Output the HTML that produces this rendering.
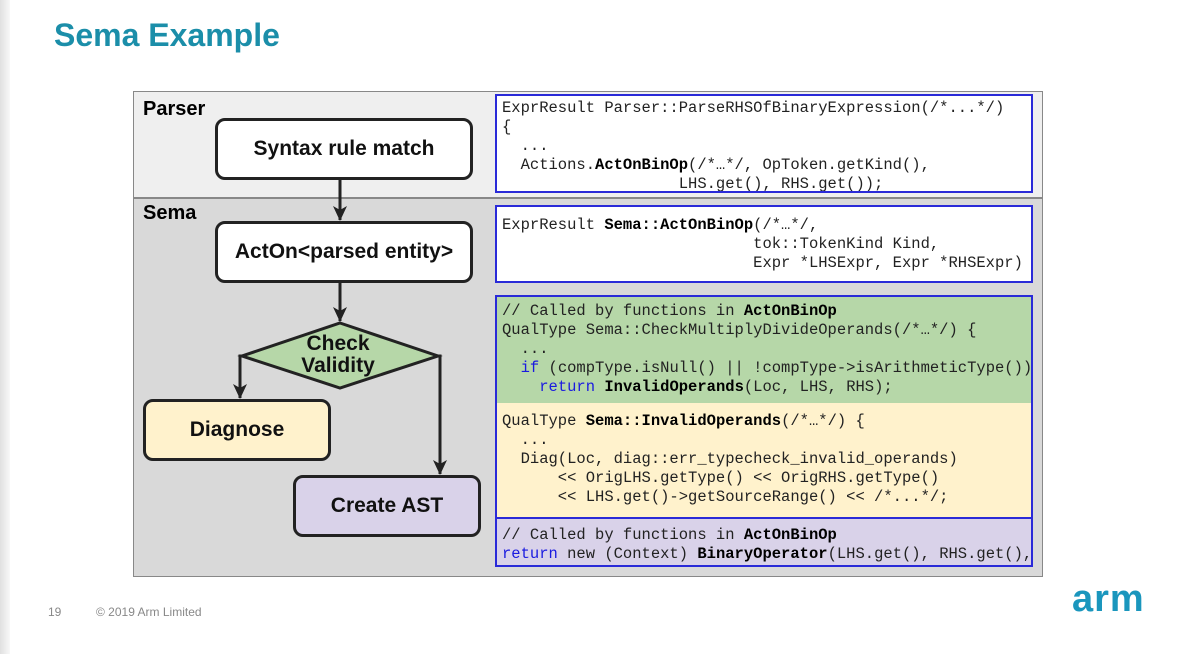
<!DOCTYPE html>
<html><head><meta charset="utf-8"><style>
body{margin:0;width:1188px;height:654px;background:#fff;position:relative;overflow:hidden;font-family:"Liberation Sans",sans-serif}
.abs{position:absolute}
.code{position:absolute;left:495px;width:538px;border:2px solid #2a2ad8;box-sizing:border-box;font-family:"Liberation Mono",monospace;font-size:15.5px;line-height:19px;white-space:pre;color:#222;padding-left:5px;overflow:hidden}
.code b{color:#000}
.kw{color:#1a1ae0}
.node{position:absolute;border:3px solid #222;border-radius:10px;box-sizing:border-box;display:flex;align-items:center;justify-content:center;font-weight:bold;font-size:21px;color:#111}
</style></head><body>
<div class="abs" style="left:0;top:0;width:10px;height:654px;background:linear-gradient(to right,#e0e0e0,#f8f8f8)"></div>
<div class="abs" style="left:54px;top:17px;font-size:32px;font-weight:bold;color:#1b8ea9">Sema Example</div>
<div class="abs" style="left:133px;top:91px;width:908px;height:106px;background:#efefef;border:1px solid #888;border-bottom:none"></div>
<div class="abs" style="left:133px;top:197px;width:908px;height:377px;background:#d9d9d9;border:1px solid #888;border-top:2px solid #888"></div>
<div class="abs" style="left:143px;top:98px;font-size:20px;font-weight:bold">Parser</div>
<div class="abs" style="left:143px;top:202px;font-size:20px;font-weight:bold">Sema</div>

<div class="code" style="top:94px;height:99px;background:#fff;padding-top:3px">ExprResult Parser::ParseRHSOfBinaryExpression(/*...*/)
{
  ...
  Actions.<b>ActOnBinOp</b>(/*…*/, OpToken.getKind(),
                   LHS.get(), RHS.get());</div>
<div class="code" style="top:205px;height:78px;background:#fff;padding-top:9px">ExprResult <b>Sema::ActOnBinOp</b>(/*…*/,
                           tok::TokenKind Kind,
                           Expr *LHSExpr, Expr *RHSExpr)</div>
<div class="code" style="top:295px;height:110px;background:#b6d7a8;padding-top:5px">// Called by functions in <b>ActOnBinOp</b>
QualType Sema::CheckMultiplyDivideOperands(/*…*/) {
  ...
  <span class="kw">if</span> (compType.isNull() || !compType->isArithmeticType())
    <span class="kw">return</span> <b>InvalidOperands</b>(Loc, LHS, RHS);</div>
<div class="code" style="top:403px;height:116px;background:#fff2cc;border-top:none;padding-top:9px">QualType <b>Sema::InvalidOperands</b>(/*…*/) {
  ...
  Diag(Loc, diag::err_typecheck_invalid_operands)
      << OrigLHS.getType() << OrigRHS.getType()
      << LHS.get()->getSourceRange() << /*...*/;</div>
<div class="code" style="top:517px;height:50px;background:#d9d2e9;padding-top:7px">// Called by functions in <b>ActOnBinOp</b>
<span class="kw">return</span> new (Context) <b>BinaryOperator</b>(LHS.get(), RHS.get(),</div>

<div class="node" style="left:215px;top:118px;width:258px;height:62px;background:#fff">Syntax rule match</div>
<div class="node" style="left:215px;top:221px;width:258px;height:62px;background:#fff">ActOn&lt;parsed entity&gt;</div>
<div class="node" style="left:143px;top:399px;width:188px;height:62px;background:#fff2cc">Diagnose</div>
<div class="node" style="left:293px;top:475px;width:188px;height:62px;background:#d9d2e9">Create AST</div>

<svg class="abs" style="left:0;top:0" width="1188" height="654">
<defs><marker id="a" markerWidth="16" markerHeight="14" refX="14" refY="7" orient="auto" markerUnits="userSpaceOnUse"><path d="M0,0 L15,7 L0,14 L4,7 Z" fill="#222"/></marker></defs>
<g stroke="#222" stroke-width="3" fill="none">
<line x1="340" y1="180" x2="340" y2="220" marker-end="url(#a)"/>
<line x1="340" y1="283" x2="340" y2="321" marker-end="url(#a)"/>
<polyline points="242,356 240,356 240,398" marker-end="url(#a)"/>
<polyline points="438,356 440,356 440,474" marker-end="url(#a)"/>
</g>
<polygon points="340,323 438,356 340,388 242,356" fill="#b6d7a8" stroke="#222" stroke-width="3"/>
<text x="338" y="350" text-anchor="middle" font-family="Liberation Sans" font-weight="bold" font-size="21" fill="#111">Check</text>
<text x="338" y="372" text-anchor="middle" font-family="Liberation Sans" font-weight="bold" font-size="21" fill="#111">Validity</text>
</svg>

<div class="abs" style="left:48px;top:605px;font-size:12px;color:#888">19</div>
<div class="abs" style="left:96px;top:605px;font-size:12px;color:#888">© 2019 Arm Limited</div>
<div class="abs" style="left:1072px;top:578px;font-size:38px;font-weight:bold;color:#1a96bd;letter-spacing:1px">arm</div>
</body></html>
